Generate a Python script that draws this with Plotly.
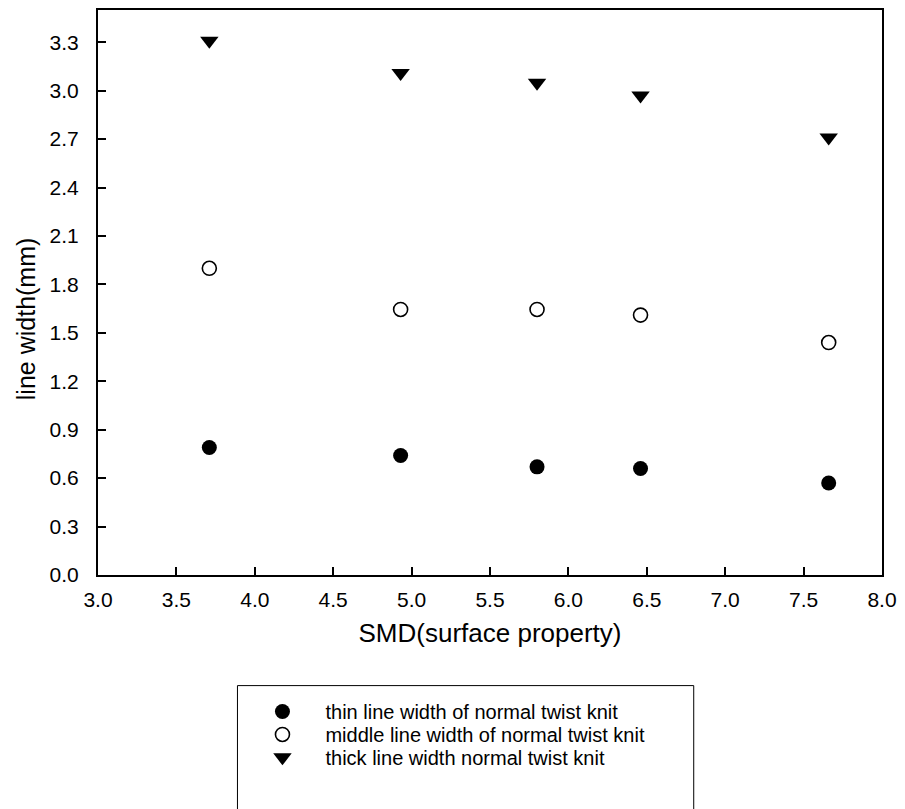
import plotly.graph_objects as go

smd = [3.71, 4.93, 5.80, 6.46, 7.66]
thin = [0.79, 0.74, 0.67, 0.66, 0.57]
middle = [1.90, 1.645, 1.645, 1.61, 1.44]
thick = [3.31, 3.11, 3.05, 2.97, 2.71]

names = ["thin line width of normal twist knit",
         "middle line width of normal twist knit",
         "thick line width normal twist knit"]

x_ticks = [3.0, 3.5, 4.0, 4.5, 5.0, 5.5, 6.0, 6.5, 7.0, 7.5, 8.0]
y_ticks = [0.0, 0.3, 0.6, 0.9, 1.2, 1.5, 1.8, 2.1, 2.4, 2.7, 3.0, 3.3]

x_title = "SMD(surface property)"
y_title = "line width(mm)"

FONT = "Liberation Sans, Arial, sans-serif"

W, H = 905, 809
ml, mr, mt, mb = 98, 20, 8, 234
pw, ph = W - ml - mr, H - mt - mb


def px(x):
    return (x - ml) / pw


def py(y):
    return (H - mb - y) / ph


fig = go.Figure()
fig.add_trace(go.Scatter(x=smd, y=thin, mode="markers", name=names[0],
                         legend="legend",
                         marker=dict(symbol="circle", size=15, color="black")))
fig.add_trace(go.Scatter(x=smd, y=middle, mode="markers", name=names[1],
                         legend="legend2",
                         marker=dict(symbol="circle-open", size=14, color="black",
                                     line=dict(width=1.6, color="black"))))
fig.add_trace(go.Scatter(x=smd, y=thick, mode="markers", name=names[2],
                         legend="legend3",
                         marker=dict(symbol="triangle-down", size=16, color="black")))

axis_common = dict(showline=True, linecolor="black", linewidth=2, mirror=True,
                   ticks="inside", ticklen=8, tickwidth=1.5, tickcolor="black",
                   showgrid=False, zeroline=False,
                   tickfont=dict(family=FONT, size=21, color="black"))

fig.update_xaxes(range=[3.0, 8.0], tickvals=x_ticks,
                 ticktext=[f"{v:.1f}" for v in x_ticks],
                 ticklabelstandoff=5,
                 title=dict(text=x_title,
                            font=dict(family=FONT, size=26, color="black"),
                            standoff=14),
                 **axis_common)
fig.update_yaxes(range=[0.0, 3.5], tickvals=y_ticks,
                 ticktext=[f"{v:.1f}" for v in y_ticks],
                 ticklabelstandoff=13,
                 **axis_common)

fig.add_annotation(text=y_title, textangle=-90, xref="paper", yref="paper",
                   x=px(26), y=py(318), xanchor="center", yanchor="middle",
                   showarrow=False,
                   font=dict(family=FONT, size=25, color="black"))

fig.add_shape(type="rect", xref="paper", yref="paper",
              x0=px(238), x1=px(696), y0=py(686), y1=py(830),
              line=dict(color="black", width=1), fillcolor="rgba(0,0,0,0)")

leg_common = dict(xanchor="left", yanchor="middle",
                  bgcolor="rgba(0,0,0,0)", borderwidth=0,
                  font=dict(family=FONT, size=20, color="black"),
                  itemwidth=76)
row_y = [712, 735, 758]

fig.update_layout(
    width=W, height=H,
    margin=dict(l=ml, r=mr, t=mt, b=mb),
    plot_bgcolor="white", paper_bgcolor="white",
    font=dict(family=FONT, color="black"),
    showlegend=True,
    legend=dict(x=px(240), y=py(row_y[0]), **leg_common),
    legend2=dict(x=px(240), y=py(row_y[1]), **leg_common),
    legend3=dict(x=px(240), y=py(row_y[2]), **leg_common),
)

fig.write_html("out.html")
